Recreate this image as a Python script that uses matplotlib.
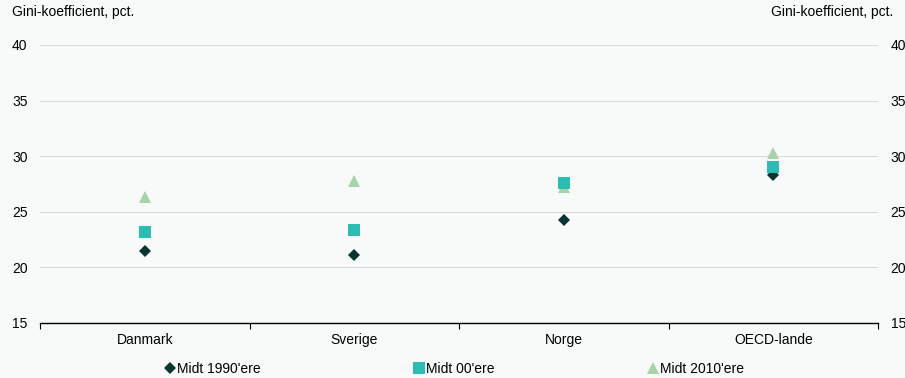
import matplotlib
matplotlib.use("Agg")
import matplotlib.pyplot as plt
import numpy as np

plt.rcParams['font.family'] = ['Liberation Sans', 'DejaVu Sans']

lande = ["Danmark", "Sverige", "Norge", "OECD-lande"]
midt_1990 = [21.5, 21.1, 24.3, 28.3]
midt_00 = [23.2, 23.4, 27.6, 29.0]
midt_2010 = [26.3, 27.8, 27.2, 30.3]
serier = ["Midt 1990'ere", "Midt 00'ere", "Midt 2010'ere"]
yticks = [15, 20, 25, 30, 35, 40]

baggrund = "#f8fafa"
farver = ["#0b3330", "#2bbdb3", "#a6d3a9"]
markoerer = ["D", "s", "^"]
stoerrelser = [6, 8, 8.5]

fig = plt.figure(figsize=(9.05, 3.78), dpi=100, facecolor=baggrund)
ax = fig.add_axes([40/905, 1-323/378, 838/905, 278/378], facecolor=baggrund)

x = np.arange(len(lande))
handles = []
for vaerdier, navn, farve, m, s in zip([midt_1990, midt_00, midt_2010], serier, farver, markoerer, stoerrelser):
    h, = ax.plot(x, vaerdier, linestyle="none", marker=m, markersize=s,
                 color=farve, markeredgewidth=0, label=navn, zorder=3)
    handles.append(h)

# firkanter over triangler hvor de overlapper (Norge)
handles[1].set_zorder(4)

ax.set_xlim(-0.5, len(lande) - 0.5)
ax.set_ylim(15, 40)
ax.set_yticks(yticks)
ax.yaxis.grid(True, color="#d9d9d9", linewidth=0.8)
ax.set_axisbelow(True)
for side in ["top", "left", "right"]:
    ax.spines[side].set_visible(False)
ax.spines["bottom"].set_color("black")
ax.spines["bottom"].set_linewidth(1)

ax.set_xticks(x)
ax.set_xticklabels(lande, fontsize=10)
# små streger mellem landene og i begge ender
ax.set_xticks(np.arange(-0.5, len(lande), 1.0), minor=True)
ax.tick_params(axis="x", which="major", length=0, pad=7)
ax.tick_params(axis="x", which="minor", length=4, width=0.8, direction="out")
ax.tick_params(axis="y", length=0, labelsize=10, pad=9, labelleft=True, labelright=True)

fig.text(12/905, 1-12/378, "Gini-koefficient, pct.", fontsize=10, va="center", ha="left")
fig.text(893/905, 1-12/378, "Gini-koefficient, pct.", fontsize=10, va="center", ha="right")

fig.legend(handles=handles, loc="center", bbox_to_anchor=(0.502, 1-369/378), ncol=3,
           frameon=False, fontsize=10, handlelength=0.8, handletextpad=0.1,
           columnspacing=11.0, markerscale=1.0)

fig.savefig("out.png", dpi=100, facecolor=baggrund)
